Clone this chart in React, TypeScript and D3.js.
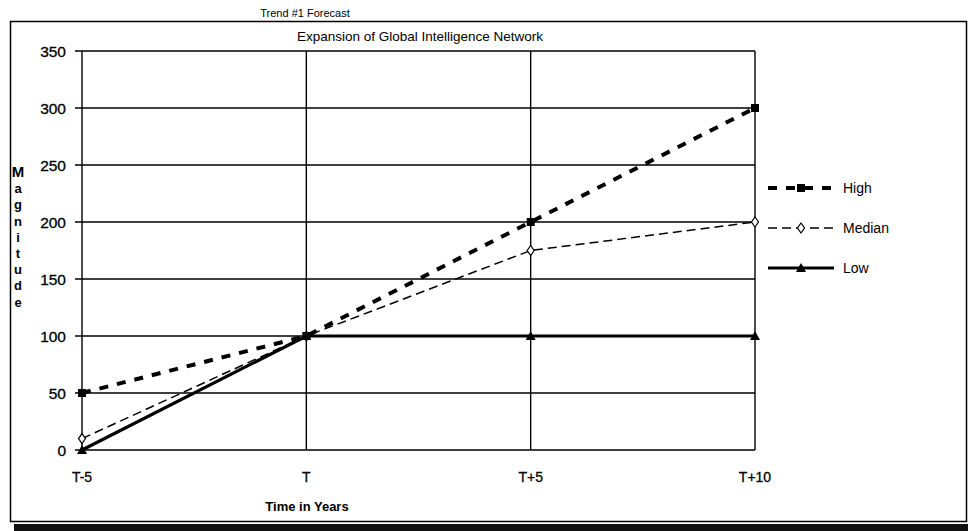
import React from "react";
import * as d3 from "d3";

const categories = ["T-5", "T", "T+5", "T+10"];
const highValues = [50, 100, 200, 300];
const medianValues = [10, 100, 175, 200];
const lowValues = [0, 100, 100, 100];
const yTicks = [0, 50, 100, 150, 200, 250, 300, 350];
const seriesNames = ["High", "Median", "Low"];
const yTitle = "Magnitude";

const W = 968;
const H = 531;
const FONT = "'Liberation Sans', Arial, sans-serif";

export default function App() {
  const x = d3.scalePoint<string>().domain(categories).range([82, 755]).padding(0);
  const y = d3.scaleLinear().domain([0, 350]).range([450, 51]);
  const line = d3
    .line<[string, number]>()
    .x((d) => x(d[0]) as number)
    .y((d) => y(d[1]));
  const zip = (vals: number[]) => categories.map((c, i) => [c, vals[i]] as [string, number]);

  const marker = (name: string, cx: number, cy: number, key: string) => {
    if (name === "High")
      return <rect key={key} x={cx - 4} y={cy - 4} width={8} height={8} fill="#000" />;
    if (name === "Median")
      return (
        <path
          key={key}
          d={`M${cx},${cy - 5}L${cx + 3.5},${cy}L${cx},${cy + 5}L${cx - 3.5},${cy}Z`}
          fill="#fff"
          stroke="#000"
          strokeWidth={1.2}
        />
      );
    return <path key={key} d={`M${cx},${cy - 5}L${cx + 5},${cy + 4}L${cx - 5},${cy + 4}Z`} fill="#000" />;
  };

  const styles: Record<string, { w: number; dash?: string }> = {
    High: { w: 4, dash: "9,9" },
    Median: { w: 1.5, dash: "9,5" },
    Low: { w: 3.2 },
  };
  const data: Record<string, number[]> = { High: highValues, Median: medianValues, Low: lowValues };

  return (
    <svg width={W} height={H} style={{ position: "absolute", left: 0, top: 0, background: "#fff" }}>
      <rect x={0} y={0} width={W} height={H} fill="#fff" />
      {/* frame */}
      <rect x={10.5} y={21.5} width={956} height={500} fill="none" stroke="#000" strokeWidth={1.5} />
      <rect x={14} y={524} width={954} height={7} fill="#111" />
      {/* titles */}
      <text x={305} y={17} textAnchor="middle" fontFamily={FONT} fontSize={11} fill="#000">
        Trend #1 Forecast
      </text>
      <text x={420} y={41} textAnchor="middle" fontFamily={FONT} fontSize={13.5} fill="#000">
        Expansion of Global Intelligence Network
      </text>
      {/* grid */}
      {yTicks.map((t) => (
        <g key={t}>
          <line x1={75} x2={755} y1={y(t)} y2={y(t)} stroke="#000" strokeWidth={1.6} />
          <text x={66} y={y(t) + 5.5} textAnchor="end" fontFamily={FONT} fontSize={15.5} fill="#000" stroke="#000" strokeWidth={0.3}>
            {t}
          </text>
        </g>
      ))}
      {categories.map((c) => (
        <g key={c}>
          <line x1={x(c)} x2={x(c)} y1={51} y2={450} stroke="#000" strokeWidth={1.4} />
          <text x={x(c)} y={482} textAnchor="middle" fontFamily={FONT} fontSize={14} fill="#000" stroke="#000" strokeWidth={0.3}>
            {c}
          </text>
        </g>
      ))}
      <text x={307} y={511} textAnchor="middle" fontFamily={FONT} fontSize={13} fontWeight="bold" fill="#000">
        Time in Years
      </text>
      {yTitle.split("").map((ch, i) => (
        <text
          key={i}
          x={18}
          y={177 + i * 16.2}
          textAnchor="middle"
          fontFamily={FONT}
          fontSize={i === 0 ? 15 : 13}
          fontWeight="bold"
          fill="#000"
        >
          {ch}
        </text>
      ))}
      {/* series */}
      {seriesNames.map((n) => (
        <g key={n}>
          <path
            d={line(zip(data[n])) || ""}
            fill="none"
            stroke="#000"
            strokeWidth={styles[n].w}
            strokeDasharray={styles[n].dash}
          />
          {data[n].map((v, i) => marker(n, x(categories[i]) as number, y(v), n + i))}
        </g>
      ))}
      {/* legend */}
      {seriesNames.map((n, i) => {
        const ly = 188 + i * 40;
        return (
          <g key={n}>
            <line
              x1={768}
              x2={834}
              y1={ly}
              y2={ly}
              stroke="#000"
              strokeWidth={styles[n].w}
              strokeDasharray={styles[n].dash}
            />
            {marker(n, 801, ly, "lg" + n)}
            <text x={843} y={ly + 5} fontFamily={FONT} fontSize={14} fill="#000">
              {n}
            </text>
          </g>
        );
      })}
    </svg>
  );
}
